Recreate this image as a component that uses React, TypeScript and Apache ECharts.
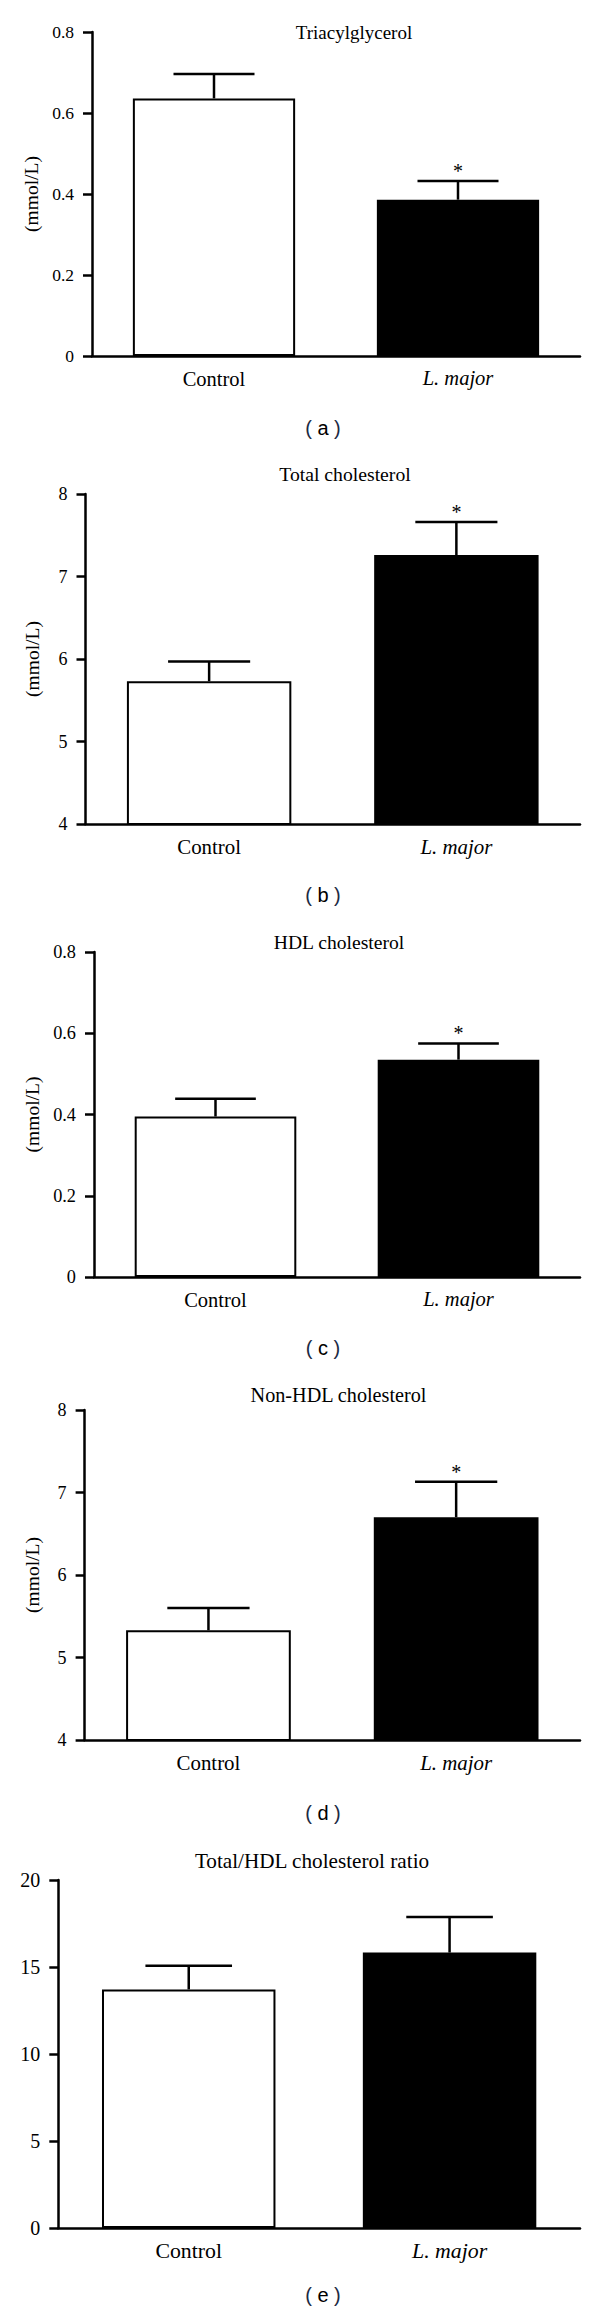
import React, { useEffect, useRef } from "react";
import * as echarts from "echarts";

// ---- data ----
const categories = ["Control", "L. major"];
const panelTitles = [
  "Triacylglycerol",
  "Total cholesterol",
  "HDL cholesterol",
  "Non-HDL cholesterol",
  "Total/HDL cholesterol ratio",
];
const panelLetters = ["a", "b", "c", "d", "e"];
const yAxisNames = ["(mmol/L)", "(mmol/L)", "(mmol/L)", "(mmol/L)", ""];

const triacylglycerolMean = [0.636, 0.386];
const triacylglycerolSem = [0.06, 0.046];
const totalCholMean = [5.73, 7.26];
const totalCholSem = [0.24, 0.4];
const hdlMean = [0.395, 0.535];
const hdlSem = [0.044, 0.04];
const nonHdlMean = [5.33, 6.7];
const nonHdlSem = [0.27, 0.43];
const ratioMean = [13.71, 15.83];
const ratioSem = [1.36, 2.05];

const triacylglycerolSig = [false, true];
const totalCholSig = [false, true];
const hdlSig = [false, true];
const nonHdlSig = [false, true];
const ratioSig = [false, false];

const yMin = [0, 4, 0, 4, 0];
const yMax = [0.8, 8, 0.8, 8, 20];
const yInterval = [0.2, 1, 0.2, 1, 5];

const means = [triacylglycerolMean, totalCholMean, hdlMean, nonHdlMean, ratioMean];
const sems = [triacylglycerolSem, totalCholSem, hdlSem, nonHdlSem, ratioSem];
const sigs = [triacylglycerolSig, totalCholSig, hdlSig, nonHdlSig, ratioSig];

// ---- layout (pixels) ----
const gridLeft = [92, 85.5, 94, 84.6, 58.3];
const gridTop = [32, 494, 952, 1410, 1880];
const gridBottomY = [356, 824, 1277, 1740, 2228];
const gridRightX = 580;
const titleX = [354, 345, 339, 338.5, 312];
const titleY = [32, 474, 942, 1395, 1861];
const titleSize = [19, 19.7, 19.6, 20.2, 21.2];
const tickSize = [17.5, 18, 18.3, 18, 20];
const catSize = [20.5, 20.9, 20.5, 20.9, 21.8];
const captionX = 323;
const captionY = [428, 895, 1348, 1813, 2295];

const SERIF = "'Liberation Serif', 'Times New Roman', serif";
const SANS = "'Liberation Sans', Arial, sans-serif";

export default function App() {
  const ref = useRef<HTMLDivElement>(null);

  useEffect(() => {
    if (!ref.current) return;
    const chart = echarts.init(ref.current, undefined, { renderer: "svg" });

    const grids: any[] = [];
    const xAxes: any[] = [];
    const yAxes: any[] = [];
    const series: any[] = [];
    const graphics: any[] = [];

    for (let p = 0; p < 5; p++) {
      grids.push({
        left: gridLeft[p],
        top: gridTop[p],
        width: gridRightX - gridLeft[p],
        height: gridBottomY[p] - gridTop[p],
        containLabel: false,
      });
      xAxes.push({
        type: "category",
        gridIndex: p,
        data: categories,
        axisLine: { lineStyle: { color: "#000", width: 2.5 } },
        axisTick: { alignWithLabel: true, length: 9, lineStyle: { color: "#000", width: 2.5 } },
        axisLabel: {
          margin: 12,
          formatter: (v: string) => (v === "L. major" ? "{it|" + v + "}" : "{n|" + v + "}"),
          rich: {
            it: { fontFamily: SERIF, fontSize: catSize[p], fontStyle: "italic", color: "#000" },
            n: { fontFamily: SERIF, fontSize: catSize[p], color: "#000" },
          },
        },
        splitLine: { show: false },
      });
      yAxes.push({
        type: "value",
        gridIndex: p,
        min: yMin[p],
        max: yMax[p],
        interval: yInterval[p],
        name: yAxisNames[p],
        nameLocation: "middle",
        nameRotate: 90,
        nameGap: gridLeft[p] - 42,
        nameTextStyle: { fontFamily: SERIF, fontSize: 19.5, color: "#000" },
        axisLine: { show: true, lineStyle: { color: "#000", width: 2.5 } },
        axisTick: { show: true, length: 9, lineStyle: { color: "#000", width: 2.5 } },
        axisLabel: { margin: 18, fontFamily: SERIF, fontSize: tickSize[p], color: "#000" },
        splitLine: { show: false },
      });

      series.push({
        type: "bar",
        xAxisIndex: p,
        yAxisIndex: p,
        barWidth: "66.5%",
        clip: true,
        data: means[p].map((v, i) => ({
          value: v,
          itemStyle: {
            color: i === 0 ? "#ffffff" : "#000000",
            borderColor: "#000",
            borderWidth: 2,
          },
        })),
      });

      const errData = means[p].map((m, i) => [i, m, m + sems[p][i], sigs[p][i] ? 1 : 0]);
      series.push({
        type: "custom",
        xAxisIndex: p,
        yAxisIndex: p,
        data: errData,
        renderItem: (params: any, api: any) => {
          const ci = api.value(0);
          const m = api.value(1);
          const up = api.value(2);
          const sig = api.value(3);
          const p0 = api.coord([ci, m]);
          const p1 = api.coord([ci, up]);
          const band = api.size([1, 0])[0];
          const half = band * 0.166;
          const children: any[] = [
            {
              type: "line",
              shape: { x1: p0[0], y1: p0[1], x2: p1[0], y2: p1[1] },
              style: { stroke: "#000", lineWidth: 2.5 },
            },
            {
              type: "line",
              shape: { x1: p1[0] - half, y1: p1[1], x2: p1[0] + half, y2: p1[1] },
              style: { stroke: "#000", lineWidth: 2.5 },
            },
          ];
          if (sig) {
            children.push({
              type: "text",
              x: p1[0],
              y: p1[1] - 10,
              style: {
                text: "*",
                fill: "#000",
                font: "20px " + SERIF,
                align: "center",
                verticalAlign: "middle",
              },
            });
          }
          return { type: "group", children };
        },
      });

      graphics.push({
        type: "text",
        x: titleX[p],
        y: titleY[p],
        style: {
          text: panelTitles[p],
          fill: "#000",
          font: titleSize[p] + "px " + SERIF,
          align: "center",
          verticalAlign: "middle",
        },
      });
      graphics.push({
        type: "text",
        x: captionX,
        y: captionY[p],
        style: {
          text: "{p|(} {l|" + panelLetters[p] + "} {p|)}",
          align: "center",
          verticalAlign: "middle",
          font: "20px " + SANS,
          rich: {
            p: { fill: "#1b2a44", font: "20px " + SANS },
            l: { fill: "#000", font: "20px " + SANS },
          },
        },
      });
    }

    chart.setOption({
      animation: false,
      backgroundColor: "#ffffff",
      grid: grids,
      xAxis: xAxes,
      yAxis: yAxes,
      series,
      graphic: graphics,
    });

    return () => chart.dispose();
  }, []);

  return (
    <div
      ref={ref}
      style={{ position: "absolute", left: 0, top: 0, width: 600, height: 2318, background: "#fff" }}
    />
  );
}
